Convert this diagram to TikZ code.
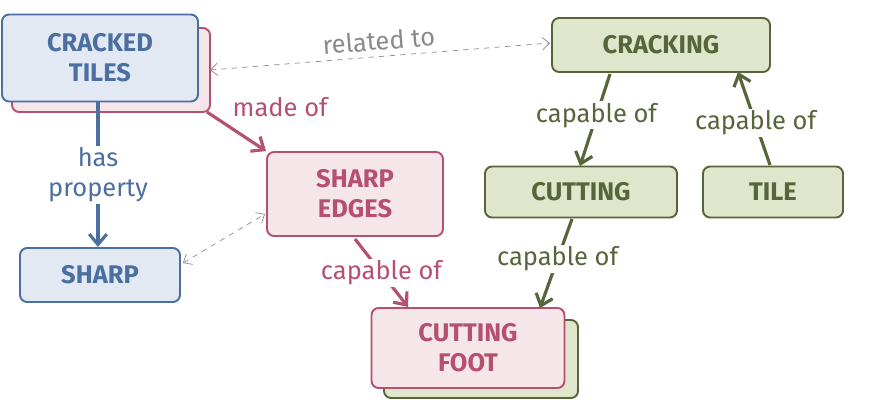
\documentclass[tikz,border=0pt]{standalone}
\usepackage{fontspec}
\setmainfont{Fira Sans}
\usepackage{tikz}
\usetikzlibrary{arrows.meta, positioning, calc}

\definecolor{blueline}{HTML}{4A6FA0}
\definecolor{bluefill}{HTML}{E3E9F3}
\definecolor{pinkline}{HTML}{B5506E}
\definecolor{pinkfill}{HTML}{F5E6EA}
\definecolor{greenline}{HTML}{56663A}
\definecolor{greenfill}{HTML}{E0E6CC}
\definecolor{relgray}{HTML}{8A8A8A}

\begin{document}
\begin{tikzpicture}[
  x=0.02cm, y=-0.02cm,
  concept/.style={draw, rounded corners=4pt, line width=1.1pt, align=center,
    font=\fontsize{14.5}{17}\selectfont\bfseries, inner sep=0pt},
  bluebox/.style={concept, fill=bluefill, draw=blueline, text=blueline},
  pinkbox/.style={concept, fill=pinkfill, draw=pinkline, text=pinkline},
  greenbox/.style={concept, fill=greenfill, draw=greenline, text=greenline},
  rel/.style={line width=1.8pt, -{Straight Barb[length=6pt,width=10pt]}},
  rellabel/.style={font=\fontsize{14.5}{17}\selectfont, align=center, fill=white, inner sep=1pt},
  hint/.style={dashed, relgray, thin, {Straight Barb[length=4pt,width=7pt]}-{Straight Barb[length=4pt,width=7pt]}}
]
\useasboundingbox (0,0) rectangle (872,410);

% shadow boxes
\draw[pinkbox] (12,28) rectangle (210,112);
\draw[greenbox] (384,320) rectangle (578,398);

% concepts
\node[bluebox, minimum width=3.92cm, minimum height=1.74cm] (cracked) at (100,58) {CRACKED\\TILES};
\node[bluebox, minimum width=3.2cm, minimum height=1.08cm] (sharp) at (100,275) {SHARP};
\node[pinkbox, minimum width=3.52cm, minimum height=1.68cm] (edges) at (355,194) {SHARP\\EDGES};
\node[pinkbox, minimum width=3.86cm, minimum height=1.6cm] (foot) at (468,348) {CUTTING\\FOOT};
\node[greenbox, minimum width=4.36cm, minimum height=1.08cm] (cracking) at (661,45) {CRACKING};
\node[greenbox, minimum width=3.84cm, minimum height=1.02cm] (cutting) at (581,192) {CUTTING};
\node[greenbox, minimum width=2.8cm, minimum height=1.02cm] (tile) at (773,192) {TILE};

% relations
\draw[rel, blueline] (cracked.south -| 98,0) -- (sharp.north -| 98,0)
  node[rellabel, midway, text=blueline] {has\\property};
\draw[rel, pinkline] (207,112) -- (edges.north west)
  node[rellabel, pos=0.2, above right, xshift=6pt, fill=none, text=pinkline] {made of};
\draw[rel, pinkline] (edges.south) ++(0,2) -- (408,307)
  node[rellabel, midway, text=pinkline] {capable of};
\draw[rel, greenline] (610,74) -- (580,166)
  node[rellabel, pos=0.45, text=greenline] {capable of};
\draw[rel, greenline] (770,165) -- (738,72)
  node[rellabel, pos=0.45, text=greenline] {capable of};
\draw[rel, greenline] (572,219) -- (540,308)
  node[rellabel, pos=0.45, text=greenline] {capable of};

% hints
\draw[hint] (210,70) -- (550,43)
  node[midway, above, sloped, font=\fontsize{14.5}{17}\selectfont, text=relgray] {related to};
\draw[hint] (sharp.east) ++(2,-12) -- (265,214);
\end{tikzpicture}
\end{document}
